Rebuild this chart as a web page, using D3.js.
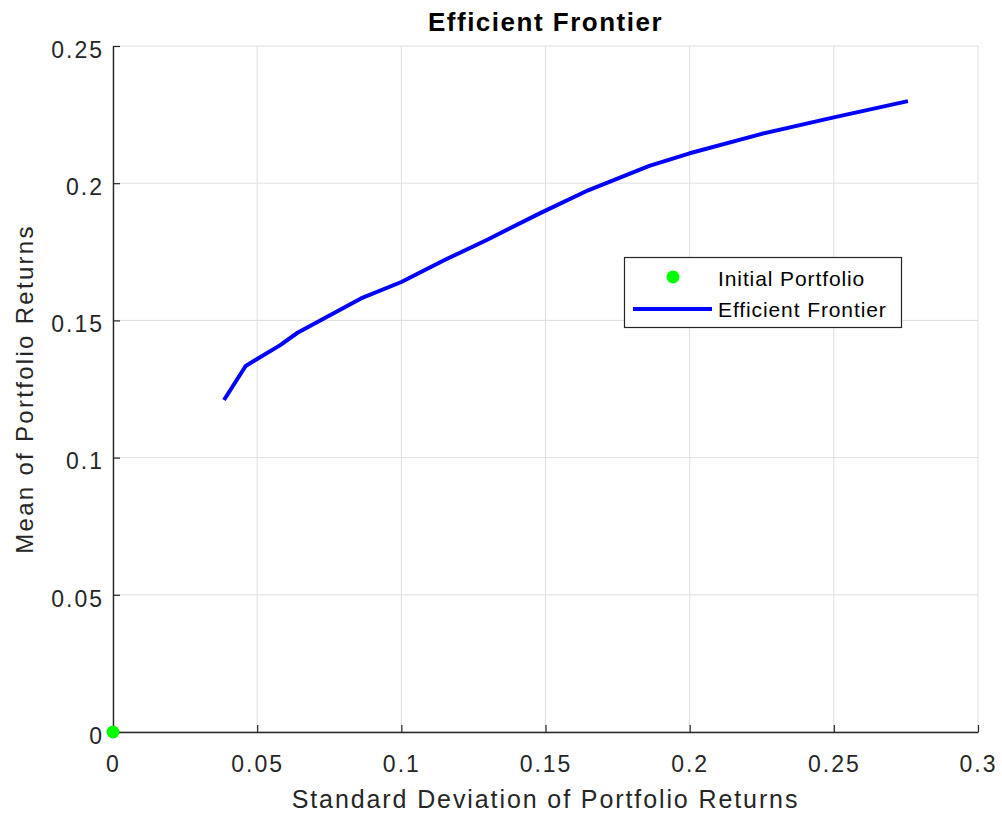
<!DOCTYPE html>
<html>
<head>
<meta charset="utf-8">
<script src="https://cdn.jsdelivr.net/npm/d3@7"></script>
<style>
  body { margin: 0; background: #fff; }
  text { font-family: "Liberation Sans", Arial, sans-serif; }
</style>
</head>
<body>
<div id="chart"></div>
<script>
/* Data */
const FRONTIER_STD = [0.0385, 0.046, 0.058, 0.064, 0.086, 0.1, 0.115, 0.13, 0.148, 0.165, 0.186, 0.2, 0.225, 0.25, 0.2757];
const FRONTIER_MEAN = [0.121, 0.1334, 0.141, 0.1455, 0.158, 0.164, 0.172, 0.1795, 0.189, 0.1975, 0.2063, 0.2109, 0.218, 0.224, 0.2299];
const INITIAL_STD = [0];
const INITIAL_MEAN = [0];
const X_TICKS = [0, 0.05, 0.1, 0.15, 0.2, 0.25, 0.3];
const Y_TICKS = [0, 0.05, 0.1, 0.15, 0.2, 0.25];
const LEGEND_LABELS = ['Initial Portfolio', 'Efficient Frontier'];

/* Dimensions */
const WIDTH = 1002;
const HEIGHT = 816;
const LEFT = 113, RIGHT = 978, TOP = 46, BOTTOM = 732;

const svg = d3.select('#chart').append('svg')
    .attr('width', WIDTH)
    .attr('height', HEIGHT);

const x = d3.scaleLinear().domain([0, 0.3]).range([LEFT, RIGHT]);
const y = d3.scaleLinear().domain([0, 0.25]).range([BOTTOM, TOP]);

// grid
const grid = svg.append('g');
grid.selectAll('.vgrid').data(X_TICKS).enter().append('line')
    .attr('x1', d => x(d)).attr('x2', d => x(d))
    .attr('y1', TOP).attr('y2', BOTTOM)
    .attr('stroke', '#dfdfdf').attr('stroke-width', 1);
grid.selectAll('.hgrid').data(Y_TICKS).enter().append('line')
    .attr('x1', LEFT).attr('x2', RIGHT)
    .attr('y1', d => y(d)).attr('y2', d => y(d))
    .attr('stroke', '#dfdfdf').attr('stroke-width', 1);

// axes
const fmt = d => d3.format('')(d);
const xAxis = svg.append('g')
    .attr('transform', `translate(0,${BOTTOM})`)
    .call(d3.axisBottom(x).tickValues(X_TICKS).tickSizeInner(-7).tickSizeOuter(0).tickPadding(40)
        .tickFormat(fmt));
const yAxis = svg.append('g')
    .attr('transform', `translate(${LEFT},0)`)
    .call(d3.axisLeft(y).tickValues(Y_TICKS).tickSizeInner(-7).tickSizeOuter(0).tickPadding(9)
        .tickFormat(fmt));

[xAxis, yAxis].forEach(a => {
    a.select('.domain').attr('stroke', '#262626').attr('stroke-width', 1.4);
    a.selectAll('.tick line').attr('stroke', '#262626').attr('stroke-width', 1.2);
    a.selectAll('.tick text').attr('fill', '#262626')
        .style('font-size', '23px').style('letter-spacing', '2px')
        .style('font-family', '"Liberation Sans", Arial, sans-serif');
});
yAxis.selectAll('.tick text').attr('dy', '0.49em');
xAxis.selectAll('.tick text').attr('dy', 0).attr('dx', 0);

// frontier line
const pts = FRONTIER_STD.map((s, i) => [s, FRONTIER_MEAN[i]]);
svg.append('path')
    .datum(pts)
    .attr('d', d3.line().x(d => x(d[0])).y(d => y(d[1])))
    .attr('fill', 'none')
    .attr('stroke', '#0000ff')
    .attr('stroke-width', 4)
    .attr('stroke-linejoin', 'round');

// initial portfolio
svg.selectAll('.initial').data(INITIAL_STD).enter().append('circle')
    .attr('cx', d => x(d))
    .attr('cy', (d, i) => y(INITIAL_MEAN[i]))
    .attr('r', 6.5)
    .attr('fill', '#00ff00');

// title and labels
svg.append('text')
    .attr('x', (LEFT + RIGHT) / 2).attr('y', 31)
    .attr('text-anchor', 'middle')
    .style('font-size', '26px').style('font-weight', 'bold').style('letter-spacing', '1.5px')
    .attr('fill', '#000')
    .text('Efficient Frontier');

svg.append('text')
    .attr('x', (LEFT + RIGHT) / 2).attr('y', 808)
    .attr('text-anchor', 'middle')
    .style('font-size', '25px').style('letter-spacing', '1.9px')
    .attr('fill', '#262626')
    .text('Standard Deviation of Portfolio Returns');

svg.append('text')
    .attr('transform', `translate(33,${(TOP + BOTTOM) / 2}) rotate(-90)`)
    .attr('text-anchor', 'middle')
    .style('font-size', '24px').style('letter-spacing', '2.3px')
    .attr('fill', '#262626')
    .text('Mean of Portfolio Returns');

// legend
const legend = svg.append('g');
legend.append('rect')
    .attr('x', 624.5).attr('y', 257.5)
    .attr('width', 277).attr('height', 70)
    .attr('fill', '#fff')
    .attr('stroke', '#262626').attr('stroke-width', 1.2);
legend.append('circle')
    .attr('cx', 673).attr('cy', 277).attr('r', 6.5)
    .attr('fill', '#00ff00');
legend.append('line')
    .attr('x1', 633).attr('x2', 712)
    .attr('y1', 309).attr('y2', 309)
    .attr('stroke', '#0000ff').attr('stroke-width', 4);
legend.selectAll('.lbl').data(LEGEND_LABELS).enter().append('text')
    .attr('x', 718)
    .attr('y', (d, i) => 286 + i * 31)
    .style('font-size', '21px').style('letter-spacing', '0.9px')
    .attr('fill', '#000')
    .text(d => d);
</script>
</body>
</html>
